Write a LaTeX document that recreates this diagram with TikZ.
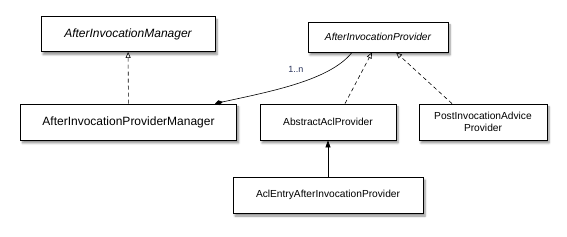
\documentclass[tikz,border=0pt]{standalone}
\usepackage{fontspec}
\setmainfont{Liberation Sans}
\usetikzlibrary{arrows.meta,positioning,shadows.blur}
\definecolor{labelcolor}{RGB}{40,50,90}

\begin{document}
\begin{tikzpicture}[
  x=1pt,y=-1pt,
  box/.style={draw,thick,fill=white,align=center,inner sep=2pt,font=\fontsize{10.2}{12}\selectfont,
    blur shadow={shadow xshift=2pt,shadow yshift=-3pt,shadow blur steps=6,shadow opacity=45}},
  bigbox/.style={box,font=\fontsize{12}{14}\selectfont},
  realize/.style={semithick,dash pattern=on 4pt off 3pt,-{Triangle[open,length=6pt,width=5pt]}},
  extend/.style={semithick,-{Triangle[length=7pt,width=5pt]}},
  owns/.style={semithick,{Diamond[length=8pt,width=5pt]}-}
]
\useasboundingbox (0,0) rectangle (567,237);
% interfaces
\node[bigbox,minimum width=174pt,minimum height=35pt,font=\fontsize{12}{14}\selectfont\itshape] (aim) at (128,34) {AfterInvocationManager};
\node[box,minimum width=140pt,minimum height=30pt,font=\fontsize{10.2}{12}\selectfont\itshape] (aip) at (378,37) {AfterInvocationProvider};
% classes
\node[bigbox,minimum width=216pt,minimum height=36pt] (aipm) at (128.5,122) {AfterInvocationProviderManager};
\node[box,minimum width=136pt,minimum height=36pt] (acl) at (328,122) {AbstractAclProvider};
\node[box,minimum width=128pt,minimum height=36pt] (post) at (483,122) {PostInvocationAdvice\\Provider};
\node[box,minimum width=190pt,minimum height=36pt] (entry) at (328,195) {AclEntryAfterInvocationProvider};
% relations
\draw[realize] (aipm) -- (aim);
\draw[owns] (aipm.north -| 215,0) .. controls +(55,-12) and +(-22,28) .. (aip.south -| 352,0) node[pos=0.5,above=8pt,font=\fontsize{9}{10}\selectfont,text=labelcolor] (mult) {1..n};
\draw[realize] (acl.north) ++(17,0) coordinate (acltop) -- (aip.south -| 372,0);
\draw[realize] (post.north) ++(-31,0) coordinate (posttop) -- (aip.south -| 396,0);
\draw[extend] (entry) -- (acl);
\end{tikzpicture}
\end{document}
